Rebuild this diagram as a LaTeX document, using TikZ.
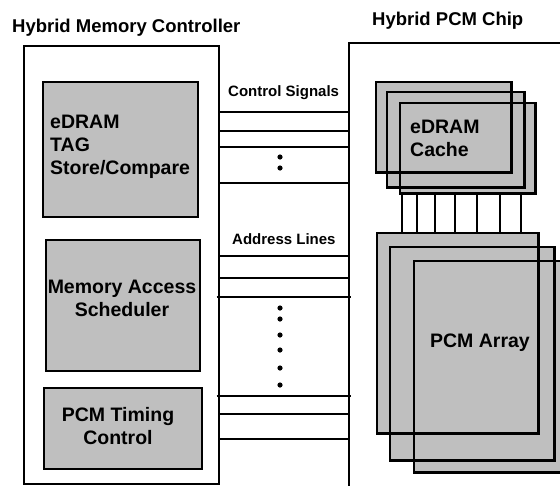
\documentclass[tikz,border=0pt]{standalone}
\usepackage{fontspec}
\setmainfont{Liberation Sans}
\usetikzlibrary{positioning}

\begin{document}
\begin{tikzpicture}[
  x=1pt, y=-1pt,
  font=\bfseries\fontsize{19.5}{23}\selectfont,
  frame/.style={draw, line width=1.6pt, inner sep=0pt, anchor=north west},
  unit/.style={draw, line width=2.4pt, fill=black!25, inner sep=0pt, anchor=north west},
  layer/.style={fill=black!25, inner sep=0pt, anchor=north west},
  outline/.style={line width=2.2pt},
  wire/.style={line width=1.6pt},
  heading/.style={anchor=base west, inner sep=0pt, font=\bfseries\fontsize{18.5}{22}\selectfont},
  buslbl/.style={anchor=base west, inner sep=0pt, font=\bfseries\fontsize{15}{18}\selectfont},
  txt/.style={inner sep=0pt, align=center},
]
  \useasboundingbox (0,0) rectangle (560,485);
  \clip (0,0) rectangle (560,485);

  % ---------------- controller side ----------------
  \node[heading] (hmctitle) at (12,32) {Hybrid Memory Controller};
  \node[frame, minimum width=195pt, minimum height=438pt] (hmc) at (23,45) {};
  \node[unit, minimum width=155pt, minimum height=135pt] (tag) at (42,81) {};
  \node[unit, minimum width=154pt, minimum height=131pt] (sched) at (45,239) {};
  \node[unit, minimum width=158pt, minimum height=81pt] (timing) at (43,387) {};
  \node[txt, align=left, anchor=north west] (tagtxt) at (50,115) {eDRAM\\TAG\\Store/Compare};
  \node[txt] (schedtxt) at (122,298) {Memory Access\\Scheduler};
  \node[txt] (timingtxt) at (118,426) {PCM Timing\\Control};

  % ---------------- chip side ----------------
  \node[heading] (chiptitle) at (372,25) {Hybrid PCM Chip};
  \node[frame, minimum width=260pt, minimum height=470pt] (chip) at (348,42) {};

  % cache and array stacks: fills first, outlines on top
  \node[layer, minimum width=135pt, minimum height=90pt] (c1) at (376,82) {};
  \node[layer, minimum width=137pt, minimum height=95pt] (c2) at (387,92) {};
  \node[layer, minimum width=135pt, minimum height=90pt] (c3) at (400,103) {};
  \node[layer, minimum width=161pt, minimum height=200pt] (a1) at (377,233) {};
  \node[layer, minimum width=164pt, minimum height=213pt] (a2) at (390,247) {};
  \node[layer, minimum width=200pt, minimum height=211pt] (a3) at (414,261) {};
  \foreach \n in {c1,c2,c3,a1,a2,a3}
    \draw[outline] (\n.north west) rectangle (\n.south east);
  \node[txt, align=left, anchor=north west] (cachetxt) at (410,120) {eDRAM\\Cache};
  \node[txt, anchor=base] (arraytxt) at (480,347) {PCM Array};

  % links from cache down to the array
  \foreach \x in {402,417,435,455,477,500,521}
    \draw[wire] (c3.south -| {\x,0}) -- (a1.north -| {\x,0});

  % ---------------- buses ----------------
  \node[buslbl] (ctrllbl) at (228,96) {Control Signals};
  \node[buslbl] (addrlbl) at (232,244) {Address Lines};
  \foreach \y in {112,131,147,183,256,278,414,439}
    \draw[wire] (hmc.east |- {0,\y}) -- (chip.west |- {0,\y});
  % these two run a little past both frames
  \foreach \y in {297,396}
    \draw[wire, shorten <=-3pt, shorten >=-3pt] (hmc.east |- {0,\y}) -- (chip.west |- {0,\y});
  \foreach \y in {157,168,308,319,335,350,368,385}
    \fill (280,\y) circle (2.6);
\end{tikzpicture}
\end{document}
